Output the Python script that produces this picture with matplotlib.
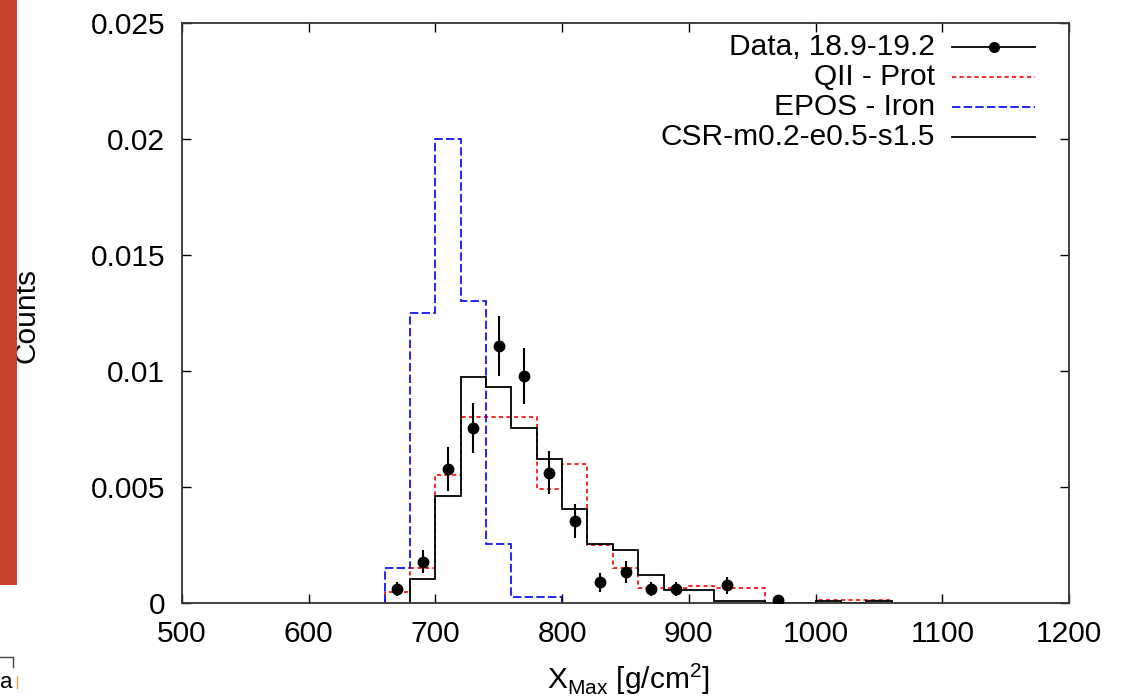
import numpy as np
import matplotlib
matplotlib.use("Agg")
import matplotlib.pyplot as plt
from matplotlib.lines import Line2D
from matplotlib.patches import Rectangle

plt.rcParams['font.family'] = ['Liberation Sans', 'DejaVu Sans']
plt.rcParams['mathtext.fontset'] = 'custom'
plt.rcParams['mathtext.rm'] = 'Liberation Sans'

# ---- data -------------------------------------------------------------
# measured Xmax distribution (bin centres, normalised counts, errors)
data_x = [670, 690, 710, 730, 750, 770, 790, 810, 830, 850, 870, 890, 930, 970]
data_y = [0.00060, 0.00178, 0.00577, 0.00754, 0.01107, 0.00977, 0.00562,
          0.00354, 0.00089, 0.00135, 0.00060, 0.00060, 0.00077, 0.00014]
data_err = [0.00029, 0.00050, 0.00093, 0.00107, 0.00130, 0.00122, 0.00092,
            0.00074, 0.00040, 0.00047, 0.00030, 0.00030, 0.00037, 0.00010]

# QGSJet-II proton prediction, 20 g/cm2 bins from 660 to 1060
prot_edges = list(range(660, 1061, 20))
prot_vals = [0.00046, 0.00152, 0.00551, 0.00803, 0.00803, 0.00803, 0.00493,
             0.00597, 0.00250, 0.00152, 0.00063, 0.00063, 0.00075, 0.00063,
             0.00063, 0.0, 0.0, 0.00015, 0.00015, 0.00015]

# EPOS iron prediction, 660 to 800
iron_edges = list(range(660, 801, 20))
iron_vals = [0.00152, 0.01250, 0.02000, 0.01300, 0.00252, 0.00027, 0.00027]

# CSR model, 680 to 1060
csr_edges = list(range(680, 1061, 20))
csr_vals = [0.00103, 0.00462, 0.00974, 0.00931, 0.00754, 0.00621, 0.00404,
            0.00252, 0.00228, 0.00122, 0.00057, 0.00057, 0.00010, 0.00010,
            0.0, 0.0, 0.00010, 0.0, 0.00010]

labels = ["Data, 18.9-19.2", "QII - Prot", "EPOS - Iron", "CSR-m0.2-e0.5-s1.5"]
x_ticks = [500, 600, 700, 800, 900, 1000, 1100, 1200]
y_ticks = [0, 0.005, 0.01, 0.015, 0.02, 0.025]
y_ticklabels = ["0", "0.005", "0.01", "0.015", "0.02", "0.025"]

# ---- figure -----------------------------------------------------------
W, H = 1122, 697
fig = plt.figure(figsize=(W / 100, H / 100), dpi=100)
ax = fig.add_axes([182 / W, 1 - 603 / H, 887 / W, 580.5 / H])

FS = 21.5
red_style = dict(color='#ff0000', lw=1.2, linestyle=(0, (2.5, 2.0)))
blue_style = dict(color='#0000ff', lw=1.2, linestyle=(0, (5.0, 2.0)))
black_style = dict(color='black', lw=1.3)

ax.stairs(prot_vals, prot_edges, baseline=0, **red_style)
ax.stairs(iron_vals, iron_edges, baseline=0, **blue_style)
ax.stairs(csr_vals, csr_edges, baseline=0, **black_style)
ax.errorbar(data_x, data_y, yerr=data_err, fmt='o', color='black',
            ms=7.5, elinewidth=1.5, capsize=0, zorder=5)

ax.set_xlim(500, 1200)
ax.set_ylim(0, 0.025)
ax.set_xticks(x_ticks)
ax.set_yticks(y_ticks)
ax.set_yticklabels(y_ticklabels)
ax.tick_params(direction='in', length=6.5, width=1.0, top=True, right=True,
               labelsize=FS, colors='black')
ax.tick_params(axis='y', pad=12)
ax.tick_params(axis='x', pad=12)
for s in ax.spines.values():
    s.set_linewidth(1.3)
    s.set_color('#333333')

ax.set_xlabel(r'X$_{\mathregular{Max}}$ [g/cm$^{\mathregular{2}}$]', fontsize=FS)
ax.xaxis.set_label_coords(0.503, -0.10)
ax.xaxis.label.set_va('top')
ax.set_ylabel('Counts', fontsize=FS)
ax.yaxis.set_label_coords(-0.159, 0.496)

# key in the upper right corner: text right-aligned, sample to its right
rows_y = [0.957, 0.906, 0.854, 0.803]
x_txt, x0, x1 = 0.849, 0.868, 0.962
styles = [None, red_style, blue_style, black_style]
for lab, yy, st in zip(labels, rows_y, styles):
    ax.text(x_txt, yy, lab, transform=ax.transAxes, ha='right', va='center',
            fontsize=FS)
    if st is None:
        ax.add_line(Line2D([x0, x1], [yy, yy], transform=ax.transAxes,
                           color='black', lw=1.3))
        ax.add_line(Line2D([(x0 + x1) / 2], [yy], transform=ax.transAxes,
                           marker='o', ms=7, color='black', lw=0))
    else:
        ax.add_line(Line2D([x0, x1], [yy, yy], transform=ax.transAxes, **st))

# slide background fragments at the left edge
fig.add_artist(Rectangle((0, 1 - 585 / H), 17 / W, 585 / H,
                         transform=fig.transFigure, facecolor='#c8442a',
                         edgecolor='none', zorder=10))
fig.add_artist(Line2D([0, 13 / W], [1 - 657 / H, 1 - 657 / H],
                      transform=fig.transFigure, color='#444444', lw=1))
fig.add_artist(Line2D([13 / W, 13 / W], [1 - 657 / H, 1 - 667 / H],
                      transform=fig.transFigure, color='#444444', lw=1))
fig.text(0 / W, 1 - 682 / H, 'a', fontsize=16, ha='left', va='center')
fig.add_artist(Line2D([16.5 / W, 16.5 / W], [1 - 676 / H, 1 - 688 / H],
                      transform=fig.transFigure, color='#f0a040', lw=1))

fig.savefig('out.png', dpi=100)
